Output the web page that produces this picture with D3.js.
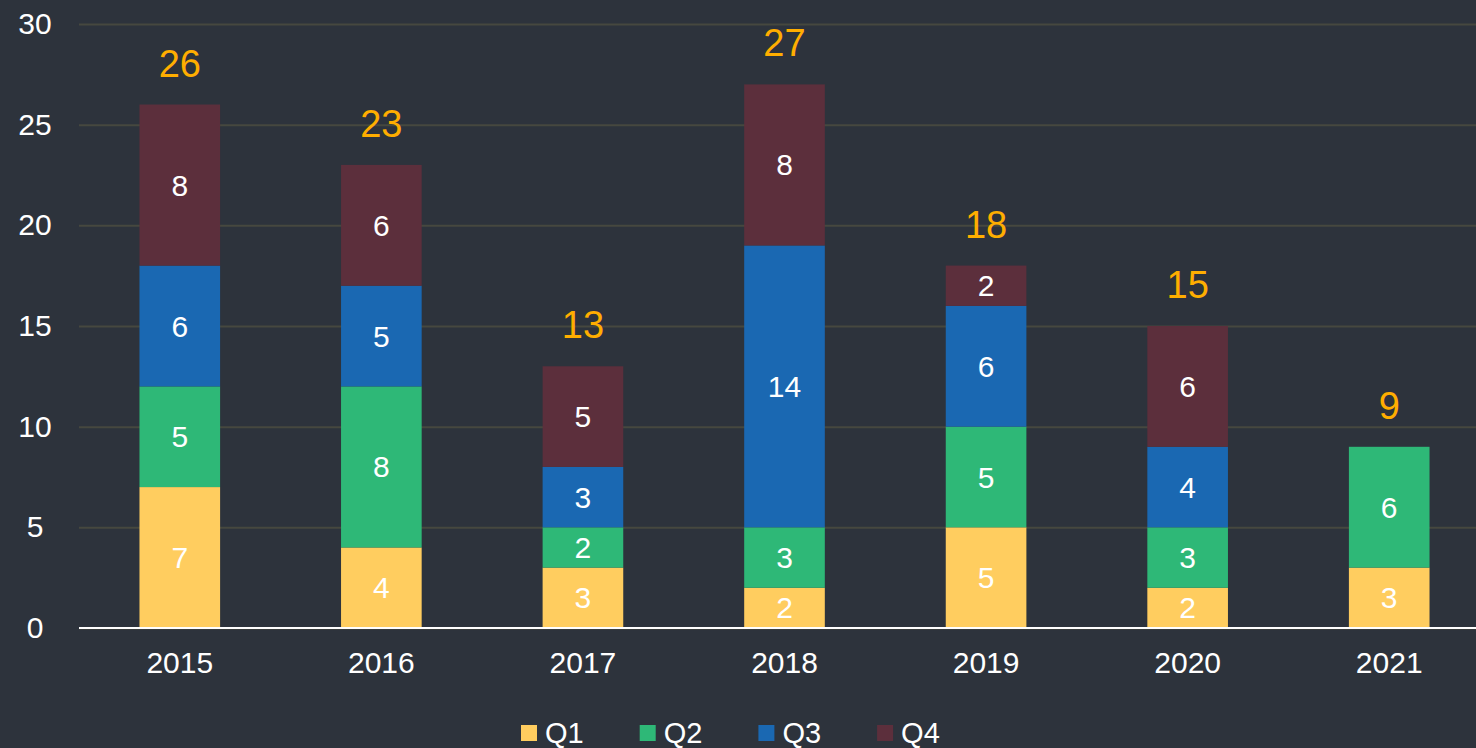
<!DOCTYPE html>
<html>
<head>
<meta charset="utf-8">
<script src="https://cdn.jsdelivr.net/npm/d3@7"></script>
<style>
  html, body { margin: 0; padding: 0; background: #2d333c; }
  svg { display: block; font-family: Arial, "Liberation Sans", sans-serif; }
</style>
</head>
<body>
<div id="chart"></div>
<script>
const years = ['2015', '2016', '2017', '2018', '2019', '2020', '2021'];
const quarters = ['Q1', 'Q2', 'Q3', 'Q4'];
const q1 = [7, 4, 3, 2, 5, 2, 3];
const q2 = [5, 8, 2, 3, 5, 3, 6];
const q3 = [6, 5, 3, 14, 6, 4, 0];
const q4 = [8, 6, 5, 8, 2, 6, 0];
const yTicks = [0, 5, 10, 15, 20, 25, 30];
const colors = ['#ffcd5f', '#2eb877', '#1a68b2', '#5c2f3c'];

const width = 1476, height = 748;
const margin = { top: 24, bottom: 120, left: 79 };

const rows = years.map((y, i) => ({ year: y, Q1: q1[i], Q2: q2[i], Q3: q3[i], Q4: q4[i] }));
const series = d3.stack().keys(quarters)(rows);
const totals = rows.map(d => quarters.reduce((s, k) => s + d[k], 0));

const svg = d3.select('#chart').append('svg')
    .attr('width', width)
    .attr('height', height);

svg.append('rect').attr('width', width).attr('height', height).attr('fill', '#2d333c');

const x = d3.scaleBand()
    .domain(years)
    .range([margin.left, 1490])
    .paddingInner(0.6)
    .paddingOuter(0.3);

const y = d3.scaleLinear()
    .domain([0, 30])
    .range([height - margin.bottom, margin.top]);

// gridlines + y labels
const yAxis = d3.axisLeft(y)
    .tickValues(yTicks)
    .tickSize(-(width - margin.left))
    .tickPadding(14);

const yG = svg.append('g')
    .attr('transform', `translate(${margin.left},0)`)
    .call(yAxis);
yG.select('.domain').remove();
yG.selectAll('.tick line').attr('stroke', '#46483f').attr('stroke-width', 2);
yG.selectAll('.tick text')
    .attr('fill', '#ffffff')
    .attr('font-size', 30)
    .attr('text-anchor', 'middle')
    .attr('x', -44);

// bars
const layer = svg.append('g').selectAll('g')
    .data(series)
    .join('g')
    .attr('fill', (d, i) => colors[i]);

layer.selectAll('rect')
    .data(d => d.filter(s => s[1] - s[0] > 0))
    .join('rect')
    .attr('x', d => x(d.data.year))
    .attr('y', d => y(d[1]))
    .attr('width', x.bandwidth())
    .attr('height', d => y(d[0]) - y(d[1]));

layer.selectAll('text')
    .data(d => d.filter(s => s[1] - s[0] > 0))
    .join('text')
    .attr('x', d => x(d.data.year) + x.bandwidth() / 2)
    .attr('y', d => (y(d[0]) + y(d[1])) / 2)
    .attr('dy', '0.35em')
    .attr('text-anchor', 'middle')
    .attr('fill', '#ffffff')
    .attr('font-size', 30)
    .text(d => d[1] - d[0]);

// totals
svg.append('g').selectAll('text')
    .data(rows)
    .join('text')
    .attr('x', d => x(d.year) + x.bandwidth() / 2)
    .attr('y', (d, i) => y(totals[i]) - 28)
    .attr('text-anchor', 'middle')
    .attr('fill', '#ffae00')
    .attr('font-size', 38)
    .text((d, i) => totals[i]);

// x axis
const xAxis = d3.axisBottom(x).tickSize(0).tickPadding(24);
const xG = svg.append('g')
    .attr('transform', `translate(0,${height - margin.bottom})`)
    .call(xAxis);
xG.select('.domain').remove();
xG.append('line')
    .attr('x1', margin.left).attr('x2', width)
    .attr('stroke', '#ffffff').attr('stroke-width', 2);
xG.selectAll('.tick text').attr('fill', '#ffffff').attr('font-size', 30);

// legend
const legend = svg.append('g').selectAll('g')
    .data(quarters)
    .join('g')
    .attr('transform', (d, i) => `translate(${521 + i * 118.7},725)`);
legend.append('rect')
    .attr('width', 16).attr('height', 16)
    .attr('fill', (d, i) => colors[i]);
legend.append('text')
    .attr('x', 24).attr('y', 8).attr('dy', '0.35em')
    .attr('fill', '#ffffff')
    .attr('font-size', 29)
    .text(d => d);
</script>
</body>
</html>
